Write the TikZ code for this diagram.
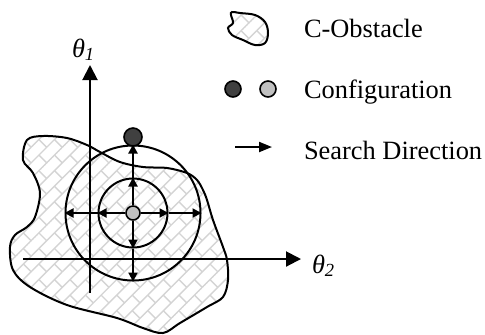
\documentclass[tikz,border=0pt]{standalone}
\usepackage{fontspec}
\setmainfont{Liberation Serif}
\usepackage{xcolor}
\usetikzlibrary{arrows.meta, positioning, calc, patterns.meta}

\definecolor{darkconf}{HTML}{404040}
\definecolor{lightconf}{HTML}{C0C0C0}

\tikzdeclarepattern{name=cbricks, type=uncolored,
    bottom left={(-.5pt,-.5pt)}, top right={(11.5pt,11.5pt)},
    tile size={(11pt,11pt)}, tile transformation={rotate=45},
    code={
        \draw[line width=.7pt] (0pt,0pt) -- (11pt,0pt) (0pt,5.5pt) -- (11pt,5.5pt)
            (0pt,0pt) -- (0pt,5.5pt) (5.5pt,5.5pt) -- (5.5pt,11pt);
    }}

\begin{document}
\begin{tikzpicture}[x=0.5pt, y=-0.5pt, line width=1pt,
    every node/.style={font=\fontsize{13.2}{15}\selectfont},
    cobst/.style={draw, pattern={cbricks}, pattern color=black!17},
    conf/.style={circle, draw, line width=0.8pt, inner sep=0pt, minimum size=#1},
    ring/.style={circle, draw, inner sep=0pt, minimum size=#1},
    label/.style={anchor=base west, inner sep=0pt},
    search/.style={-{Triangle[length=4.5pt, width=4.5pt]}},
    axis/.style={-{Triangle[length=7.5pt, width=7.5pt]}}]
    \useasboundingbox (0,0) rectangle (485,334);

    % C-obstacle
    \draw[cobst] plot[smooth cycle, tension=0.55] coordinates {
        (27,140) (43,136) (67,138) (87,145) (100,152) (120,162) (143,167)
        (167,168) (187,173) (197,180) (203,190) (207,200) (213,220) (223,247)
        (227,260) (228,280) (223,297) (207,307) (180,323) (163,333) (143,328)
        (117,318) (67,305) (30,287) (13,270) (10,247) (15,235) (27,227)
        (35,217) (40,193) (33,173) (23,160)};

    % axes
    \coordinate (o1) at (90,293);
    \coordinate (e1) at (90,65);
    \coordinate (o2) at (23,259);
    \coordinate (e2) at (301,259);
    \draw[axis] (o1) -- (e1);
    \draw[axis] (o2) -- (e2);
    \node[label] (t1) at (71,57) {\itshape θ\textsubscript{1}};
    \node[label] (t2) at (311,273) {\itshape θ\textsubscript{2}};

    % search rings
    \node[ring=67.5pt] (outer) at (133,213) {};
    \node[ring=34.5pt] (inner) at (133,213) {};
    \node[conf=7pt, fill=lightconf] (c) at (133,213) {};
    \node[conf=9pt, fill=darkconf] (d) at (133,137) {};

    \draw[search] (c) -- (inner.north);
    \draw[search] (c) -- (inner.south);
    \draw[search] (c) -- (inner.east);
    \draw[search] (c) -- (inner.west);
    \draw[search] (inner.north) -- (outer.north);
    \draw[search] (inner.south) -- (outer.south);
    \draw[search] (inner.east) -- (outer.east);
    \draw[search] (inner.west) -- (outer.west);

    % legend
    \draw[cobst] plot[smooth cycle, tension=0.6] coordinates {
        (232,12) (240,13) (255,15) (265,22) (268,33) (265,43) (255,45)
        (243,40) (232,35) (228,28) (233,23) (231,15)};
    \node[label] (lobst) at (303,37) {C-Obstacle};
    \node[conf=8pt, fill=darkconf] (ld) at (233,89) {};
    \node[conf=8pt, fill=lightconf] (ll) at (268,89) {};
    \node[label] (lconf) at (303,98) {Configuration};
    \coordinate (ls) at (235,147);
    \coordinate (le) at (272,147);
    \draw[-{Triangle[length=6.5pt, width=5pt]}] (ls) -- (le);
    \node[label] (lsearch) at (303,159) {Search Direction};
\end{tikzpicture}
\end{document}
